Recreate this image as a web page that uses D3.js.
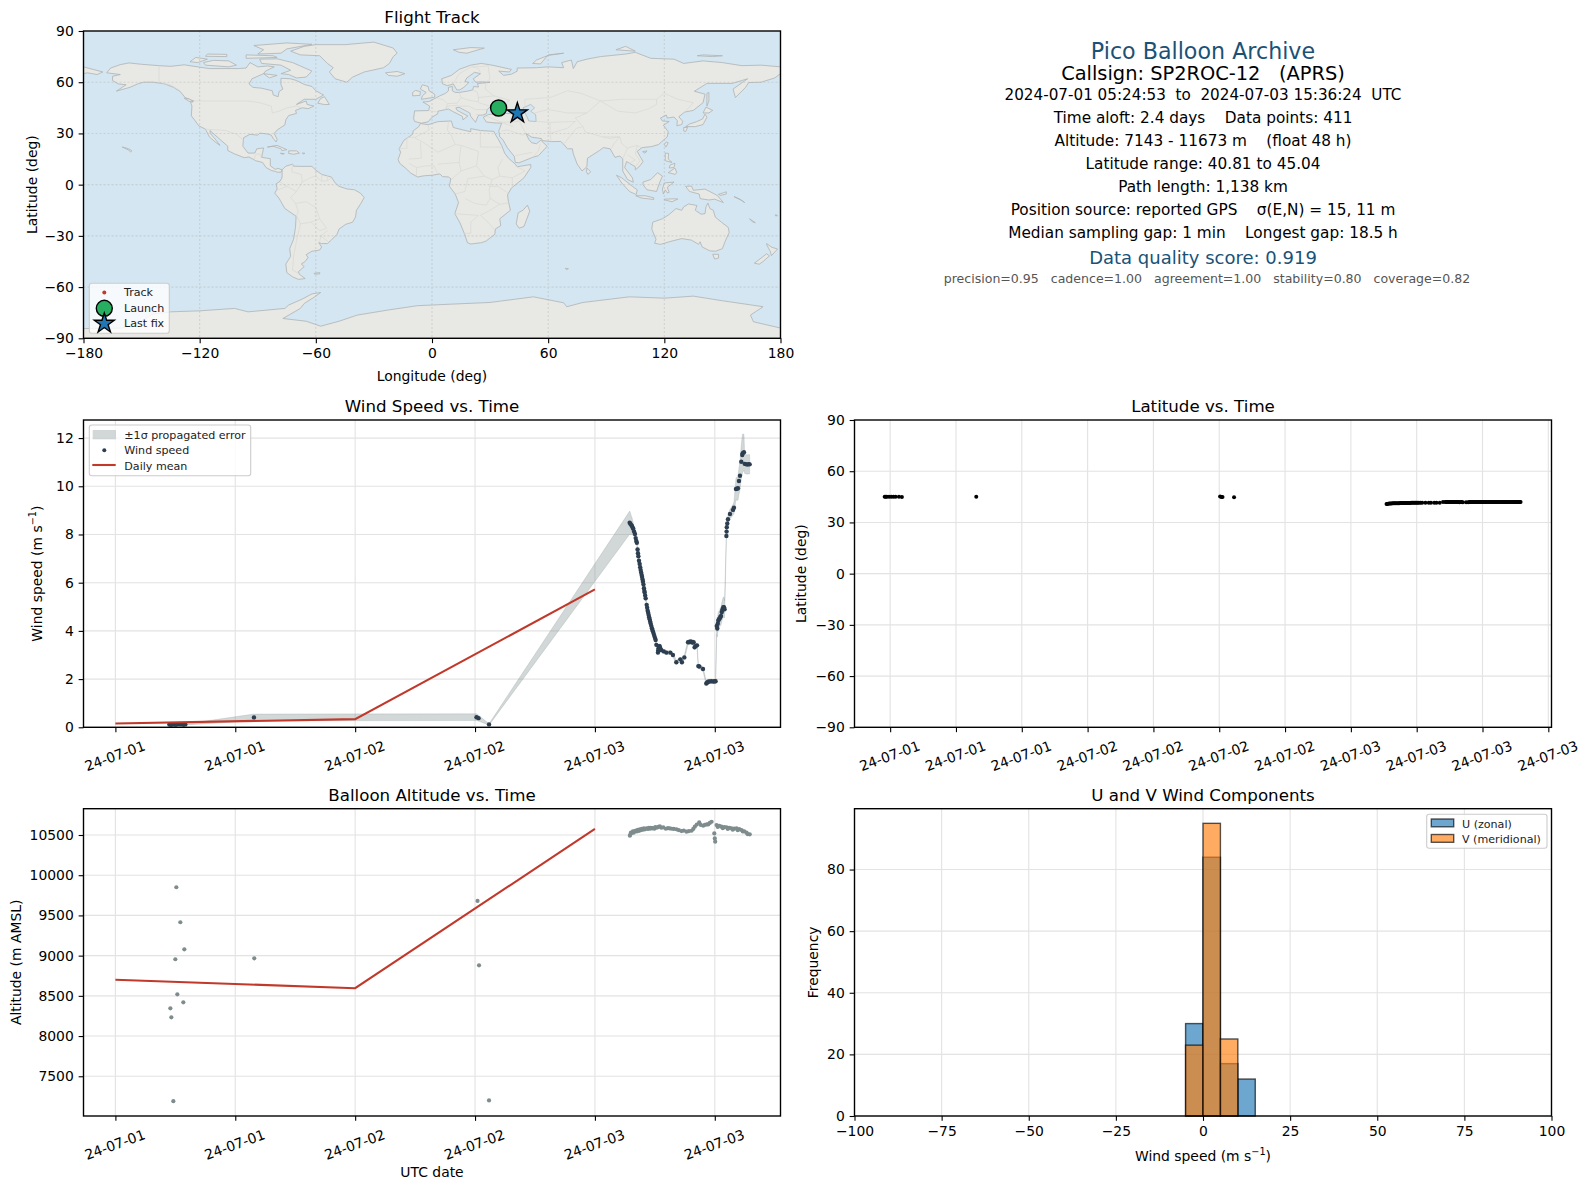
<!DOCTYPE html>
<html>
<head>
<meta charset="utf-8">
<title>Pico Balloon Archive</title>
<script src="https://cdn.jsdelivr.net/npm/d3@7"></script>
<style>
  html,body{margin:0;padding:0;background:#fff;}
  svg{display:block;}
  text{font-family:"DejaVu Sans",sans-serif;fill:#000;}
</style>
</head>
<body>
<div id="chart"></div>
<script>
// ---- flight info text
const infoLines = [
  ['Pico Balloon Archive',51,22.2,'#1a5276'],
  ['Callsign: SP2ROC-12   (APRS)',73.8,19.4,'#000'],
  ['2024-07-01 05:24:53  to  2024-07-03 15:36:24  UTC',95.1,15.2,'#000'],
  ['Time aloft: 2.4 days    Data points: 411',118.3,15.3,'#000'],
  ['Altitude: 7143 - 11673 m    (float 48 h)',141.3,15.3,'#000'],
  ['Latitude range: 40.81 to 45.04',164.3,15.3,'#000'],
  ['Path length: 1,138 km',187.3,15.3,'#000'],
  ['Position source: reported GPS    \u03c3(E,N) = 15, 11 m',210.3,15.3,'#000'],
  ['Median sampling gap: 1 min    Longest gap: 18.5 h',233.3,15.3,'#000'],
  ['Data quality score: 0.919',257.5,18,'#1a5276'],
  ['precision=0.95   cadence=1.00   agreement=1.00   stability=0.80   coverage=0.82',278.2,12.55,'#555']
];

// ---- map, lon/lat
const lonTicks = [-180,-120,-60,0,60,120,180];
const latTicks = [-90,-60,-30,0,30,60,90];
const launchLonLat = [34.4,44.9];
const lastFixLonLat = [44.1,41.9];

const landPolygons = [
  // north america
  [[-168,65.5],[-166,68.3],[-161,70.3],[-156.5,71.3],[-150,70.5],[-141,69.7],[-135,69.3],[-128,70.2],[-124,69.5],[-115,68],[-108,68],[-100,68],[-96,68.3],[-94,71.5],[-90,69],[-85,69.5],[-81.5,69],[-86,66.5],[-87,65],[-93,62],[-94.5,59],[-92.5,57],[-88,56.5],[-82.5,55],[-82,52.5],[-79.5,51.5],[-79,54.5],[-77,56],[-78,58.5],[-78,62.3],[-73,62],[-70,61],[-66,58.7],[-62,57.5],[-60,55],[-56,52.5],[-60,50],[-66,50],[-70,47],[-65,49],[-64.5,47],[-61,46],[-64,44.5],[-67,45],[-70.5,43.5],[-70,41.7],[-74,40.5],[-75.5,38],[-76,35],[-80,32],[-81.5,30],[-80,26.5],[-80.5,25],[-82,27],[-83,29],[-85,29.7],[-89,30.2],[-90,29],[-94,29.5],[-97.3,27.5],[-97.7,22.5],[-95,18.5],[-91.5,18.5],[-90.5,21],[-87,21.5],[-88,16],[-83.5,15.2],[-83.5,11],[-81,9],[-79.5,9.5],[-77.4,8.7],[-78,7.3],[-80,7.3],[-81,7.8],[-83,8.3],[-85.7,10],[-87.5,13],[-91,14],[-94.5,16.2],[-97,15.8],[-102,18],[-105.5,20],[-105.5,22.5],[-109,26],[-112.5,29.5],[-114.7,31.7],[-114.5,30],[-111.5,26],[-109.5,23],[-112,25],[-115,28],[-117,32.5],[-120.5,34.5],[-122.5,37.7],[-124.3,40.3],[-124,46],[-124.7,48.4],[-123,49],[-127.5,51],[-130,54.5],[-133.5,57],[-138,59],[-144,60],[-149,60],[-152,59],[-156,57],[-163,54.8],[-158,58.5],[-162,59],[-165,61],[-165,63.5],[-161,64.5]],
  // chukotka past the date line
  [[-180,69],[-175,67.5],[-170,66],[-173,64.5],[-178,65.5],[-180,65]],
  // greenland and arctic islands
  [[-73,78.2],[-68,76],[-58,75.5],[-54,71],[-51,68.5],[-53,66],[-50,62],[-44,60],[-41,63],[-35,66],[-25,68.5],[-22,71],[-20,75],[-18,77],[-20,80],[-30,83.5],[-45,82],[-60,82],[-66,81]],
  [[-80,73.7],[-72,71.5],[-68,69.5],[-62,66.5],[-65,63],[-70,62.5],[-74,64.5],[-78,65],[-73,67],[-78,70],[-88,71],[-89,73.5]],
  [[-117,70],[-105,69],[-101,70],[-105,72.5],[-113,72.8],[-118,71.5]],
  [[-90,76.5],[-78,77],[-75,79.5],[-62,82.2],[-75,83],[-92,81.5],[-87,79]],
  [[-125,72],[-121,71.5],[-116,73.5],[-122,74.5]],
  [[-96,74],[-80,74.5],[-82,75.5],[-96,76]],
  [[-117,75.2],[-106,75],[-106,76.3],[-116,76.5]],
  [[-87,65],[-80,64],[-84,62.5]],
  [[-59,47.7],[-55.5,46.9],[-53,47],[-55.5,51.5],[-57.5,50.5]],
  [[-128,50.7],[-125,50],[-123.5,48.4],[-125.5,48.8]],
  [[-85,22],[-80,23],[-75,20.5],[-77.5,19.9],[-78,21],[-82,22.5]],
  [[-74,19.8],[-70,19.8],[-68.5,18.5],[-71.5,17.8],[-74,18.3]],
  [[-78.3,18.4],[-76.3,18.2],[-77,17.8]],
  [[-67,18.5],[-65.7,18.4],[-66.5,18]],
  [[-160,22],[-159,21.8],[-157.5,21.3],[-156,20.6],[-155,19.8],[-155.7,19],[-156.2,20]],
  // south america
  [[-77.4,8.7],[-75.5,10.8],[-72,12],[-71.5,10.8],[-68,10.7],[-62,10.7],[-60,8.5],[-57,6],[-52,4.5],[-50,1],[-48,-1],[-44,-2.5],[-40,-3],[-37,-5],[-35,-7.5],[-37,-11.5],[-39,-15],[-39.5,-19],[-41,-22],[-44.5,-23.2],[-48,-26],[-49,-29],[-52,-32.5],[-54,-34.5],[-57,-34.5],[-58.5,-34],[-57,-36.5],[-58,-38.3],[-62,-39],[-65,-41],[-64,-42.7],[-65.5,-45],[-67.5,-46.5],[-66,-48],[-69,-51],[-68.5,-52.5],[-65.5,-55],[-69,-55.5],[-72,-54],[-75,-51.5],[-75.5,-46.5],[-73,-42],[-73.5,-37.5],[-71.5,-32],[-70.5,-25],[-70.2,-18.5],[-76,-14],[-79,-8],[-81.2,-5],[-80,-2.5],[-80.5,0.5],[-78.5,2],[-77.5,4],[-77.4,7]],
  [[-61,-52],[-58,-51.5],[-58,-52.3],[-60.5,-52.4]],
  // africa
  [[-6,35.8],[-2,35.1],[3,36.9],[10,37.3],[11,33.5],[15,32.3],[20,31],[20,32.8],[25,31.7],[32,31.2],[32.5,29.9],[34,27],[36,23],[37.5,18.5],[39.5,15.5],[43,12],[44,10.5],[51,11.8],[51,10],[47.5,4],[41,-2],[39,-6],[39.5,-10],[40.5,-15],[35,-20],[35.5,-24],[32.7,-26],[32.5,-29],[28,-33],[25.5,-34],[20,-34.8],[18.3,-34],[17,-29.5],[14.5,-22.5],[11.8,-17],[13.7,-10.5],[12,-5.5],[9,-1],[9.7,3.5],[8.5,4.5],[5.5,4.7],[4,6.3],[0,5.5],[-4,5.2],[-7.5,4.5],[-11,6.8],[-13.5,9.5],[-16.7,12.5],[-17.5,14.7],[-16.2,19],[-17,21],[-14.5,26],[-10,29.5],[-9.7,31.5],[-6.8,34]],
  [[49.3,-12],[50.5,-15.5],[47.5,-24.5],[45,-25.5],[43.5,-23],[44.5,-16.5],[47,-15]],
  // eurasia
  [[-9,43.2],[-1.7,43.4],[-1.2,46],[-4.7,48.4],[-1.5,48.7],[1.5,50.5],[4,52],[7,53.5],[8.5,55],[8.5,57],[10.5,57.5],[10.5,55],[12,54],[14,54],[18.5,54.8],[21,55.5],[21.5,57.5],[24,57.2],[23.5,59.2],[28,59.7],[30,60],[25,60.2],[22.5,60],[21.3,62],[25,65],[22,65.8],[18,62.5],[17,60.5],[19,59.8],[16.5,57],[14.3,55.5],[12.8,55.5],[11,59],[8,58],[5.5,59],[5,62],[10,64],[14,67.5],[20,70],[25.5,71],[31,70],[41,67.5],[40,66],[34.5,66.5],[37,64],[41,64.7],[44,66.5],[44,68.3],[54,68.5],[60,69],[68,68.5],[67,71.5],[72,73],[73,68],[75,72],[80,73.5],[87,75],[100,76.5],[105,77.5],[113,74],[125,73.5],[130,71],[140,72.5],[150,71.5],[160,69.7],[170,70],[180,69],[180,65],[177,62.5],[170,60],[163.5,59.8],[162,57],[156.7,51],[155.5,56],[163,62],[155,59.3],[142,59.3],[135.5,54.7],[141,53],[140,48],[135,43.5],[130.5,42.5],[127.5,39.8],[129.5,37],[129,35.2],[126.5,34.5],[126.7,37.5],[125,39.6],[121.5,39],[121,40.8],[118,39],[119,37.3],[122.5,37],[119.5,34.8],[122,31],[121.5,28],[117,23.5],[113.5,22.3],[108.5,21.7],[106,19.5],[109,13.5],[107,10.5],[105,8.7],[105,10.5],[102,12.5],[100.5,13.5],[99.5,10],[103.5,4],[104,1.4],[101,3],[98.5,8],[98.5,15],[97,16.8],[94.5,16],[92,21],[88.5,21.7],[86.5,20],[80.3,15.5],[80,10.5],[77.5,8],[75,12],[73,18],[72.5,21],[70,21],[68,23.7],[66.5,25.3],[61.5,25.2],[57,25.8],[56.5,27],[51.5,27.8],[48.5,30],[50,26.5],[51.5,24.5],[54,24],[56.2,26],[59.5,22.5],[55,17],[52,16],[45,12.8],[43,13],[42.5,16.5],[39,21.5],[36.5,26.5],[35,28],[34.5,31.5],[36,36],[32,36.2],[28,36.7],[26.5,39.5],[29,41],[35,42],[41.5,41.5],[37,45],[38,47],[35,46],[33.5,44.5],[31,46.5],[28.5,44],[28,41.5],[26,40.8],[24,40.7],[23,38],[22.5,36.5],[20,40],[19.5,42],[14,45.3],[12.3,45],[13,43.5],[18.5,40.2],[16,38],[15.7,40],[10.5,43],[8.5,44.3],[3,43],[3,41.5],[0,39.5],[-2,36.8],[-5.5,36],[-9,37],[-9.5,38.7]],
  // islands around eurasia
  [[131,34],[136,34],[140,35.2],[142,39.5],[141,41.3],[139.8,38.5],[136.5,36.8],[133,35.5]],
  [[140,42],[141.5,45.4],[145,43.5],[143,42]],
  [[130,33.5],[132,33.5],[131,31],[130,31.5]],
  [[142,46],[143,49],[143,54],[142,53.5],[142,49]],
  [[-5.5,50],[1.3,51.2],[1.5,52.8],[-1.5,55],[-2,57.5],[-5,58.5],[-6,56],[-3,54],[-5,52]],
  [[-10,52],[-6.2,52.3],[-6,54.5],[-8.5,55.2],[-10,54]],
  [[-24,65.5],[-18,66.3],[-14,65],[-18,63.5],[-22.5,64]],
  [[11,79],[20,80.3],[27,80],[18,77],[14,77.5]],
  [[52,71],[56,70.7],[60,76],[68,77],[60,75.7],[54,73]],
  [[95,79],[105,78.2],[100,81]],
  [[137,75.5],[145,75],[150,75.5],[140,76]],
  [[80,9.7],[82,7.5],[80.5,6],[79.8,7.5]],
  [[121,25],[122,24.5],[120.8,22],[120,23.5]],
  [[108.8,19.3],[111,19.8],[110,18.4]],
  [[120.5,18.5],[122.2,18.3],[122,15],[124,13],[120.5,14]],
  [[122,7],[125.5,9.7],[126.5,7],[125.5,6],[124,6.5]],
  [[123,11.5],[125.5,12.5],[125,10],[122.5,9.8]],
  [[109,1.5],[113,3],[116.5,7],[119,5],[117.5,1],[116,-4],[111,-3],[109,0]],
  [[95.3,5.5],[98,4],[103.5,-1],[106,-3],[105.5,-5.8],[102,-4],[98,1]],
  [[105.3,-6.5],[110,-6.5],[114.5,-7.7],[114.5,-8.7],[108,-7.8]],
  [[119.5,-5.5],[120.5,-3],[121.5,-4.8],[122.5,-4.5],[121.5,-1.5],[125,1.5],[120,1],[119,-2.5]],
  [[131,-1],[134,-0.8],[135,-3.3],[141,-2.6],[146,-5.5],[147.5,-6.5],[150.5,-10.5],[146,-8.5],[143,-9],[138.5,-8.2],[138,-5.5],[133,-4]],
  [[120,-8.5],[125,-8.3],[127,-8.4],[124,-10],[120,-8.9]],
  [[148,-5.7],[152,-4.2],[152,-5.5],[149,-6.3]],
  [[156,-7],[160,-9.3],[161.5,-10.5],[159,-8.5]],
  [[164,-20],[167,-22.3],[165.5,-21.8]],
  [[177.5,-17.5],[178.5,-18.2],[177.3,-18.2]],
  // australia and new zealand
  [[114,-22],[113.5,-26],[115.7,-32],[115,-34.3],[118,-35],[124,-33],[129,-31.6],[134,-32.5],[137.7,-35],[138.5,-33.5],[139.5,-36.5],[143.5,-38.8],[146.5,-39],[150,-37.5],[151.5,-33],[153.5,-28],[153,-25],[149.5,-22],[146.3,-19],[145.3,-15],[143.5,-14],[142.5,-10.8],[141.5,-13],[141,-17],[139,-17.3],[136,-15],[136.8,-12.2],[132.5,-11.3],[130,-13],[129,-15],[126,-14],[122.5,-17.5],[119,-20]],
  [[145,-40.8],[148,-40.8],[148,-43],[146,-43.6]],
  [[172.8,-34.5],[175.5,-36.7],[178.5,-37.7],[177,-39.5],[175.3,-41.6],[174.7,-39],[173,-35.5]],
  [[172.8,-40.5],[174.3,-41.7],[171,-45],[169,-46.6],[166.5,-46],[170,-43]],
  // kerguelen
  [[68.8,-49],[70.5,-49.2],[69.5,-49.8]],
  // antarctica
  [[-180,-90],[-180,-84.3],[-160,-84],[-150,-80],[-145,-76],[-135,-74.5],[-120,-73.9],[-102,-72.5],[-95,-74.5],[-76,-72.5],[-74,-70.5],[-67,-67],[-62,-64],[-57.5,-63.2],[-61,-66],[-66,-69.6],[-68,-72.5],[-77,-78.4],[-65,-80],[-57.5,-82.9],[-48,-80],[-38.6,-76.4],[-23,-73.5],[-7.6,-70.9],[10,-70],[30,-69],[52.4,-65.7],[68,-69.2],[69.6,-71.5],[78,-69],[102,-65.7],[120,-66.5],[135,-65.3],[150,-68],[171,-71.5],[164.5,-76.4],[166,-80.3],[180,-84],[180,-90]]
];
const caspianSea = [[47,45],[51,47],[53,45],[51,43],[53.5,41],[53.8,37],[50,37.3],[49,40],[47.5,43]];

const borderLines = [
  [[-123,49],[-95,49],[-89,48],[-83,46],[-82.5,42],[-79,43],[-75,45],[-70,46],[-67,45]],
  [[-141,69.7],[-141,60],[-135,58.5],[-130,55]],
  [[-117,32.5],[-106.5,31.7],[-101,29.5],[-97.3,26]],
  [[-92,14.5],[-91,17.8],[-89,18],[-88.2,16]],
  [[-72,12],[-72.5,7.5],[-67.5,6],[-67,1.5],[-63,4],[-60,5],[-60,8.5]],
  [[-60,5],[-57,2],[-54,2.3],[-52,3.8]],[[-57,6],[-57,2]],[[-54,5.8],[-54,2.3]],
  [[-67,1.5],[-70,-4],[-73,-7.5],[-70.5,-11],[-65,-10],[-60,-13.5],[-58,-20],[-54.5,-25.5]],
  [[-80.3,-3.4],[-75,-1],[-70,-4]],[[-78.5,1.5],[-75,-1]],
  [[-70.5,-11],[-69,-16],[-70,-18],[-68,-23],[-70,-33],[-71.5,-42],[-72,-50],[-69,-52]],
  [[-68,-23],[-62.5,-22],[-58,-20]],[[-62.5,-22],[-58,-27],[-54.5,-25.5]],
  [[-58,-33.5],[-57.5,-30],[-53.5,-33.5]],[[-57.5,-30],[-54,-27]],
  [[-8.7,27.7],[-13,27.7],[-13,21.3],[-17,21]],[[-2,35],[-1.5,32],[-8.7,27.7]],
  [[-8.7,27.3],[-4.8,25],[3,19],[12,23.5]],[[9.5,30],[12,23.5],[15,23],[24,19.5]],
  [[25,31.7],[25,22],[36.5,22]],[[24,19.5],[23,11],[27,5]],[[8.5,37],[8,32],[9.5,30]],
  [[-12,15],[-5.5,15.5],[-6,24.9]],[[3,12],[14,13],[15,23]],[[14,13],[15,8],[10,3]],
  [[15,8],[23,11]],[[12,-5.5],[17,-4],[18.5,3.5],[27,5],[31,3],[29.5,-3],[30,-8],[28,-12],[22,-11],[17,-8]],
  [[36.5,15],[34,10],[35,5],[41.5,4]],[[34,-1],[39,-4.7]],[[31,3],[35,5]],[[29.5,-1],[34,-1]],
  [[41.5,-1.5],[41.5,4],[48,8],[43,11]],[[11.8,-17],[24,-18],[20,-22],[20,-28.5],[16.5,-28.5]],
  [[30,-8],[35,-11.5],[40.5,-10.5]],[[35,-11.5],[30,-15],[25,-18],[29,-22],[32,-26]],
  [[-8,5],[-8,10],[-3,11],[1,11],[3,6.3]],[[-12,12.5],[-8,10]],
  [[28,59.7],[27.5,56],[32,52],[40,49.5],[38,47]],[[40,43.5],[47.5,42]],
  [[48,46],[48,50],[61,51],[70,55],[77,53.5],[87,49]],
  [[87,49],[98,50],[107,50],[116,50],[120,53.5],[127,50],[135,48],[131,43]],
  [[87,49],[96,43],[105,42],[112,44.5],[116,47],[116,50]],
  [[87,49],[80,42],[74,39],[78,34],[79,31],[88,28],[97,28],[98,24],[101,21.5],[106,23],[108,21.6]],
  [[53,42],[60,44],[70,42],[80,42]],[[44.5,39.5],[46,35],[48.5,30]],[[61,36.5],[61,30],[61.5,25.2]],
  [[54,37],[61,36.5]],[[26,41],[36,36.5],[44.5,37],[44.5,39.5],[41.5,41.5]],
  [[61,30],[70,33],[74,37],[61,36.5]],[[68,23.7],[71,28],[74.5,33],[78,34]],
  [[88,28],[92,27],[97,28]],[[97,28],[94,24],[92.5,21]],[[98.5,15],[101,21.5]],
  [[102,12.5],[105,14.5],[101,17.5]],[[106,23],[105,18],[107.5,14],[105,10.5]],
  [[36,31.5],[39,32],[47,29],[48.5,30]],[[52,16],[55,20],[56,24]],[[43,17],[52,19]],[[36,36.5],[42,34]],
  [[-1.7,43.4],[3,42.5]],[[2.5,51],[6,49.5],[8,47.5],[7,44]],
  [[14,54],[15,51],[19,49.5],[24,48.5],[24,51],[23.5,54],[21,55.5]],[[7,44],[8,46],[13.5,46.5]],
  [[8,47.5],[13,47.7],[15,51]],[[24,48],[30,46]],[[24,51],[32,52]],
  [[13.5,46],[19,46],[22.5,44],[28.5,44]],[[22.5,41],[26,41]],
  [[25,65.5],[24,68],[20.5,69],[29,69.5],[30,62],[28,60]],[[20.5,69],[14,65],[12,61],[11,59]]
];

// ---- wind speed, hours after 2024-07-01 00:00 UTC
const windHours = [
  5.4,5.5,5.6,5.8,6.0,6.2,6.5,6.8,7.0,13.87,
  36.15,36.35,37.4,51.48,51.55,51.62,51.71,51.78,51.84,51.92,
  52.01,52.08,52.14,52.20,52.27,52.31,52.35,52.41,52.48,52.53,
  52.58,52.63,52.68,52.72,52.77,52.81,52.86,52.91,52.95,52.98,
  53.03,53.08,53.18,53.23,53.28,53.33,53.38,53.43,53.48,53.53,
  53.58,53.64,53.71,53.76,53.81,53.88,53.95,54.02,54.08,54.15,
  54.31,54.34,54.38,54.43,54.48,54.55,54.65,54.9,55.15,55.55,
  55.81,56.15,56.55,56.71,56.95,57.32,57.45,57.55,57.65,57.75,
  57.88,57.98,58.1,58.22,58.35,58.45,58.82,59.15,59.22,59.32,
  59.45,59.65,59.85,60.0,60.08,60.2,60.25,60.30,60.35,60.42,
  60.49,60.55,60.62,60.70,60.75,60.85,60.92,60.98,61.16,61.18,
  61.20,61.25,61.32,61.52,61.82,61.92,62.12,62.22,62.32,62.42,
  62.52,62.65,62.75,62.79,62.92,62.99,63.1,63.25,63.4,63.49
];
const windSpeed = [
  .12,.12,.11,.12,.11,.12,.12,.11,.12,.41,
  .42,.38,.12,8.49,8.45,8.40,8.35,8.28,8.24,8.12,
  8.02,7.85,7.73,7.66,7.38,7.22,7.10,6.91,6.78,6.64,
  6.53,6.42,6.32,6.24,6.13,6.04,5.92,5.77,5.66,5.59,
  5.47,5.35,5.08,4.96,4.84,4.75,4.66,4.57,4.48,4.39,
  4.31,4.21,4.11,4.04,3.97,3.88,3.79,3.70,3.62,3.42,
  3.10,3.20,3.28,3.36,3.37,3.28,3.20,3.15,3.10,3.10,
  3.00,2.70,2.82,2.70,2.90,3.53,3.54,3.55,3.55,3.52,
  3.53,3.32,3.38,3.40,2.54,2.52,2.42,1.82,1.85,1.89,
  1.90,1.91,1.90,1.91,1.91,4.20,4.10,4.30,4.42,4.48,
  4.52,4.58,4.62,4.78,4.87,4.98,4.98,4.90,7.94,8.12,
  8.30,8.46,8.63,8.85,9.02,9.11,9.89,9.90,9.92,10.22,
  10.44,11.02,11.30,11.37,11.41,10.93,10.92,10.90,10.92,10.91
];
const windSigma = [
  .02,.02,.02,.02,.02,.02,.02,.02,.02,.14,
  .14,.12,.03,.48,.45,.40,.35,.30,.25,.20,
  .18,.16,.15,.14,.14,.14,.13,.13,.13,.13,
  .13,.13,.13,.13,.13,.13,.13,.13,.13,.13,
  .13,.13,.13,.13,.13,.13,.13,.13,.13,.13,
  .13,.13,.13,.13,.13,.13,.12,.12,.12,.12,
  .10,.10,.10,.10,.10,.09,.09,.08,.08,.08,
  .08,.08,.08,.09,.09,.10,.10,.10,.10,.10,
  .10,.10,.10,.10,.10,.09,.09,.08,.08,.08,
  .08,.08,.08,.08,.08,.35,.35,.35,.35,.35,
  .35,.37,.38,.40,.40,.42,.42,.35,.15,.15,
  .15,.15,.18,.20,.22,.25,.45,.48,.50,.55,
  .60,.70,.80,.80,.75,.40,.40,.40,.40,.40
];
const dailyHours = [0,24,48];
const dailyWind = [0.16,0.34,5.72];
const dailyAlt = [8700,8595,10575];

// ---- latitude
const latHours = [
  5.5,5.6,5.7,5.9,6.1,6.3,6.5,6.8,7.07,13.85,36.08,36.2,36.3,37.35,
  51.25,51.32,51.4,51.5,51.6,51.7,51.8,51.9,52.0,52.1,52.2,52.3,52.4,52.5,52.6,52.7,52.8,52.9,53.0,53.1,
  53.2,53.3,53.4,53.5,53.6,53.7,53.8,53.9,54.0,54.1,54.2,54.35,54.5,54.8,55.1,55.3,55.6,55.8,56.1,
  56.4,56.6,56.7,56.8,56.9,57.0,57.1,57.2,57.3,57.4,57.5,57.6,57.7,57.8,57.9,58.0,58.1,58.2,58.5,58.7,
  58.8,58.9,59.0,59.1,59.2,59.3,59.4,59.5,59.6,59.7,59.8,59.9,60.0,60.1,60.2,60.3,60.4,60.5,60.6,60.7,
  60.8,60.9,61.0,61.1,61.2,61.3,61.4,61.5,61.6,61.7,61.8,61.9,62.0,62.1,62.2,62.3,62.4,62.5,62.6,62.7,
  62.8,62.9,63.0,63.1,63.2,63.3,63.4,63.47
];
const latValues = [
  45.0,45.04,45.0,45.02,45.0,45.0,44.98,45.0,44.96,45.0,45.25,44.95,44.85,44.7,
  40.81,40.85,40.95,41.05,41.1,41.15,41.2,41.2,41.25,41.25,41.3,41.3,41.3,41.35,41.35,41.4,41.4,41.4,41.4,41.45,
  41.45,41.45,41.45,41.5,41.5,41.5,41.5,41.5,41.5,41.55,41.55,41.5,41.55,41.5,41.55,41.6,41.6,41.6,41.6,
  41.9,41.9,41.95,41.9,41.9,41.9,41.95,41.95,41.9,41.9,41.95,41.9,41.9,41.9,41.85,41.9,41.9,41.85,41.8,41.85,
  41.9,41.95,41.95,41.95,41.9,41.9,41.95,41.95,41.9,41.95,41.95,41.9,41.95,41.9,41.95,41.9,41.95,41.9,41.9,41.95,
  41.95,41.9,41.9,41.95,41.95,41.9,41.9,41.95,41.95,41.95,41.9,41.9,41.95,41.9,41.9,41.95,41.95,41.9,41.9,41.95,
  41.9,41.9,41.95,41.9,41.95,41.9,41.9,41.9
];

// ---- altitude
const altHours = [
  6.1,6.5,6.9,6.0,6.2,6.8,5.5,5.6,5.8,13.9,
  36.25,36.4,37.4,51.5,51.55,51.6,51.7,51.8,51.9,52.0,
  52.1,52.2,52.3,52.4,52.5,52.6,52.7,52.8,52.9,53.0,
  53.17,53.3,53.4,53.5,53.6,53.72,53.84,53.95,54.05,54.2,
  54.35,54.5,54.65,54.84,55.1,55.3,55.5,55.7,55.9,56.17,
  56.4,56.67,56.9,57.17,57.4,57.68,57.85,58.0,58.2,58.44,
  58.6,58.84,59.0,59.2,59.34,59.5,59.68,59.95,60.0,60.04,
  60.18,60.3,60.45,60.68,60.8,60.95,61.18,61.3,61.45,61.68,
  61.8,61.95,62.18,62.3,62.45,62.68,62.8,62.95,63.18,63.3,63.5
];
const altValues = [
  9850,9415,9079,8955,8519,8420,8345,8233,7190,8967,
  9680,8880,7200,10491,10505,10529,10525,10545,10530,10549,
  10555,10545,10565,10550,10570,10560,10575,10565,10582,10570,
  10582,10575,10590,10578,10590,10582,10587,10578,10598,10590,
  10600,10607,10590,10595,10578,10585,10582,10578,10575,10570,
  10560,10549,10555,10541,10548,10553,10575,10603,10630,10657,
  10625,10615,10625,10632,10632,10650,10665,10520,10458,10417,
  10624,10600,10615,10603,10585,10598,10595,10575,10590,10582,
  10565,10580,10582,10560,10572,10562,10545,10545,10529,10510,10508
];

// ---- histogram, 5 m/s bins
const histEdges = d3.range(-100,100,5);
const uCounts = histEdges.map(function(e){ return ({'-5':30,'0':84,'5':17,'10':12})[e]||0; });
const vCounts = histEdges.map(function(e){ return ({'-5':23,'0':95,'5':25})[e]||0; });

// ---- layout
const WIDTH = 1589, HEIGHT = 1189;
const colL = [83.5,780.5], colR = [854.5,1551.5];
const row1 = [31,338.3], row2 = [420,727.3], row3 = [808.7,1116];
const TICK = 4.86;
const RED = '#c0392b', DARK = '#2c3e50', GREY = '#7f8c8d';

const svg = d3.select('#chart').append('svg').attr('width',WIDTH).attr('height',HEIGHT);
const defs = svg.append('defs');

const hoursToDate = function(h){ return new Date(Date.UTC(2024,6,1) + h*3600000); };
const gridColour = '#b0b0b0';

function drawGrid(g,x,y,xTicks,yTicks,cols,rows,dash,opacity){
  const grid = g.append('g').attr('stroke',gridColour).attr('stroke-width',1.1).attr('opacity',opacity||0.35);
  if(dash) grid.attr('stroke-dasharray',dash);
  grid.selectAll('.vg').data(xTicks).join('line').attr('class','vg')
    .attr('x1',function(d){return x(d);}).attr('x2',function(d){return x(d);})
    .attr('y1',rows[0]).attr('y2',rows[1]);
  grid.selectAll('.hg').data(yTicks).join('line').attr('class','hg')
    .attr('y1',function(d){return y(d);}).attr('y2',function(d){return y(d);})
    .attr('x1',cols[0]).attr('x2',cols[1]);
}

function drawFrame(g,x,y,xTicks,yTicks,cols,rows,xFormat,yFormat,rotate){
  g.append('rect').attr('x',cols[0]).attr('y',rows[0])
    .attr('width',cols[1]-cols[0]).attr('height',rows[1]-rows[0])
    .attr('fill','none').attr('stroke','#000').attr('stroke-width',1.39);
  const ax = g.append('g').attr('transform','translate(0,'+rows[1]+')')
    .call(d3.axisBottom(x).tickValues(xTicks).tickFormat(xFormat).tickSize(TICK).tickPadding(TICK));
  const ay = g.append('g').attr('transform','translate('+cols[0]+',0)')
    .call(d3.axisLeft(y).tickValues(yTicks).tickFormat(yFormat||d3.format('d')).tickSize(TICK).tickPadding(TICK));
  [ax,ay].forEach(function(a){
    a.select('.domain').remove();
    a.selectAll('line').attr('stroke','#000').attr('stroke-width',1.1);
    a.selectAll('text').attr('font-size',13.9).attr('font-family','"DejaVu Sans",sans-serif').attr('fill','#000');
  });
  if(rotate){
    ax.selectAll('text')
      .attr('text-anchor','middle').attr('dy',null).attr('y',null)
      .attr('dominant-baseline','central')
      .attr('transform','translate(-1,28.5) rotate(-20)');
  }
}

function addTitle(text,cols,yMid){
  svg.append('text').attr('x',(cols[0]+cols[1])/2).attr('y',yMid).attr('text-anchor','middle')
    .attr('dominant-baseline','central').attr('font-size',16.67).text(text);
}
function addXLabel(text,cols,yMid){
  svg.append('text').attr('x',(cols[0]+cols[1])/2).attr('y',yMid).attr('text-anchor','middle')
    .attr('dominant-baseline','central').attr('font-size',13.9).text(text);
}
function addYLabel(text,xMid,rows,sup){
  const t = svg.append('text').attr('text-anchor','middle').attr('dominant-baseline','central')
    .attr('font-size',13.9).attr('transform','translate('+xMid+','+(rows[0]+rows[1])/2+') rotate(-90)');
  t.append('tspan').text(text);
  if(sup){
    t.append('tspan').attr('dy',-5).attr('font-size',9.7).text(sup);
    t.append('tspan').attr('dy',5).text(')');
  }
}
function addLegendBox(x0,y0,x1,y1){
  svg.append('rect').attr('x',x0).attr('y',y0).attr('width',x1-x0).attr('height',y1-y0).attr('rx',2.5)
    .attr('fill','#fff').attr('fill-opacity',0.8).attr('stroke','#ccc').attr('stroke-width',1.1);
}
function legendText(x,y,text){
  svg.append('text').attr('x',x).attr('y',y).attr('dominant-baseline','central').attr('font-size',11.1).style('fill','#222').text(text);
}

// ---- flight track map
(function(){
  const x = d3.scaleLinear().domain([-180,180]).range(colL);
  const y = d3.scaleLinear().domain([-90,90]).range([row1[1],row1[0]]);
  const toPath = d3.line().x(function(d){return x(d[0]);}).y(function(d){return y(d[1]);});
  defs.append('clipPath').attr('id','map-clip').append('rect')
    .attr('x',colL[0]).attr('y',row1[0]).attr('width',colL[1]-colL[0]).attr('height',row1[1]-row1[0]);

  const g = svg.append('g');
  g.append('rect').attr('x',colL[0]).attr('y',row1[0]).attr('width',colL[1]-colL[0]).attr('height',row1[1]-row1[0]).attr('fill','#d4e6f1');
  const land = g.append('g').attr('clip-path','url(#map-clip)');
  land.selectAll('.land').data(landPolygons).join('path').attr('class','land')
    .attr('d',function(d){return toPath(d)+'Z';})
    .attr('fill','#e8e8e4').attr('stroke','#aeb2b4').attr('stroke-width',0.8).attr('stroke-linejoin','round');
  land.append('path').attr('d',toPath(caspianSea)+'Z').attr('fill','#d4e6f1').attr('stroke','#aeb2b4').attr('stroke-width',0.7);
  land.selectAll('.border').data(borderLines).join('path').attr('class','border')
    .attr('d',function(d){return toPath(d);})
    .attr('fill','none').attr('stroke','#d8d8d4').attr('stroke-width',0.7);

  drawGrid(g,x,y,lonTicks.slice(1,-1),latTicks.slice(1,-1),colL,row1,'2,2',0.4);

  // track sits under the markers
  g.append('circle').attr('cx',x(launchLonLat[0])).attr('cy',y(launchLonLat[1])).attr('r',8)
    .attr('fill','#27ae60').attr('stroke','#000').attr('stroke-width',1.4);
  g.append('path').attr('d',d3.symbol(d3.symbolStar,124)())
    .attr('transform','translate('+x(lastFixLonLat[0])+','+y(lastFixLonLat[1])+')')
    .attr('fill','#1f77b4').attr('stroke','#000').attr('stroke-width',1.4);

  drawFrame(g,x,y,lonTicks,latTicks,colL,row1,d3.format('d'),d3.format('d'),false);
  addTitle('Flight Track',colL,17.8);
  addXLabel('Longitude (deg)',colL,375.5);
  addYLabel('Latitude (deg)',31.5,row1);

  addLegendBox(89.3,283.3,169.3,333.3);
  svg.append('circle').attr('cx',104.3).attr('cy',292.5).attr('r',2).attr('fill',RED);
  svg.append('circle').attr('cx',104.3).attr('cy',308.3).attr('r',8).attr('fill','#27ae60').attr('stroke','#000').attr('stroke-width',1.4);
  svg.append('path').attr('d',d3.symbol(d3.symbolStar,124)()).attr('transform','translate(104.3,323.5)')
    .attr('fill','#1f77b4').attr('stroke','#000').attr('stroke-width',1.4);
  legendText(124,292.5,'Track');
  legendText(124,308.3,'Launch');
  legendText(124,323.5,'Last fix');
})();

// ---- info panel
svg.append('g').selectAll('text').data(infoLines).join('text')
  .attr('x',function(d,i){return i===infoLines.length-1 ? 1207 : 1203;})
  .attr('y',function(d){return d[1];})
  .attr('text-anchor','middle').attr('dominant-baseline','central')
  .attr('font-size',function(d){return d[2];})
  .style('fill',function(d){return d[3];})
  .style('white-space','pre')
  .text(function(d){return d[0];});

// ---- shared time scale for the two left panels
const timeTicks12h = [0,12,24,36,48,60].map(hoursToDate);
const timeTicks6h = d3.range(6,67,6).map(hoursToDate);
const fmtDate = d3.utcFormat('%y-%m-%d');
const leftTime = d3.scaleUtc().domain([hoursToDate(-3.193),hoursToDate(66.577)]).range(colL);

// ---- wind speed
(function(){
  const y = d3.scaleLinear().domain([0,12.75]).range([row2[1],row2[0]]);
  const g = svg.append('g');
  drawGrid(g,leftTime,y,timeTicks12h,[0,2,4,6,8,10,12],colL,row2);
  defs.append('clipPath').attr('id','wind-clip').append('rect')
    .attr('x',colL[0]).attr('y',row2[0]).attr('width',colL[1]-colL[0]).attr('height',row2[1]-row2[0]);
  const clipped = g.append('g').attr('clip-path','url(#wind-clip)');
  const band = d3.area()
    .x(function(i){return leftTime(hoursToDate(windHours[i]));})
    .y0(function(i){return y(Math.max(0,windSpeed[i]-windSigma[i]));})
    .y1(function(i){return y(windSpeed[i]+windSigma[i]);});
  clipped.append('path').attr('d',band(d3.range(windHours.length))).attr('fill',GREY).attr('fill-opacity',0.35)
    .attr('stroke',GREY).attr('stroke-opacity',0.3).attr('stroke-width',0.7);
  clipped.selectAll('.dot').data(d3.range(windHours.length)).join('circle').attr('class','dot')
    .attr('cx',function(i){return leftTime(hoursToDate(windHours[i]));})
    .attr('cy',function(i){return y(windSpeed[i]);})
    .attr('r',2.2).attr('fill',DARK);
  const mean = d3.line()
    .x(function(d,i){return leftTime(hoursToDate(dailyHours[i]));})
    .y(function(d){return y(d);});
  clipped.append('path').attr('d',mean(dailyWind)).attr('fill','none').attr('stroke',RED).attr('stroke-width',2.08);
  drawFrame(g,leftTime,y,timeTicks12h,[0,2,4,6,8,10,12],colL,row2,fmtDate,d3.format('d'),true);
  addTitle('Wind Speed vs. Time',colL,406);
  addYLabel('Wind speed (m s',36.5,row2,'\u22121');

  addLegendBox(89.3,425,250.7,475.7);
  svg.append('rect').attr('x',92.7).attr('y',430).attr('width',23.3).attr('height',9.3).attr('fill',GREY).attr('fill-opacity',0.35);
  svg.append('circle').attr('cx',104.3).attr('cy',450.3).attr('r',2).attr('fill',DARK);
  svg.append('line').attr('x1',92.3).attr('x2',115.7).attr('y1',465).attr('y2',465).attr('stroke',RED).attr('stroke-width',2.08);
  legendText(124.3,435.3,'\u00b11\u03c3 propagated error');
  legendText(124.3,450.3,'Wind speed');
  legendText(124.3,466,'Daily mean');
})();

// ---- latitude
(function(){
  const x = d3.scaleUtc().domain([hoursToDate(2.75),hoursToDate(66.29)]).range(colR);
  const y = d3.scaleLinear().domain([-90,90]).range([row2[1],row2[0]]);
  const g = svg.append('g');
  drawGrid(g,x,y,timeTicks6h,latTicks.slice(1,-1),colR,row2);
  g.selectAll('.dot').data(d3.range(latHours.length)).join('circle').attr('class','dot')
    .attr('cx',function(i){return x(hoursToDate(latHours[i]));})
    .attr('cy',function(i){return y(latValues[i]);})
    .attr('r',2).attr('fill','#000');
  drawFrame(g,x,y,timeTicks6h,latTicks,colR,row2,fmtDate,d3.format('d'),true);
  addTitle('Latitude vs. Time',colR,406);
  addYLabel('Latitude (deg)',800.5,row2);
})();

// ---- altitude
(function(){
  const y = d3.scaleLinear().domain([7006,10827]).range([row3[1],row3[0]]);
  const altTicks = [7500,8000,8500,9000,9500,10000,10500];
  const g = svg.append('g');
  drawGrid(g,leftTime,y,timeTicks12h,altTicks,colL,row3);
  g.selectAll('.dot').data(d3.range(altHours.length)).join('circle').attr('class','dot')
    .attr('cx',function(i){return leftTime(hoursToDate(altHours[i]));})
    .attr('cy',function(i){return y(altValues[i]);})
    .attr('r',2.1).attr('fill',GREY);
  const mean = d3.line()
    .x(function(d,i){return leftTime(hoursToDate(dailyHours[i]));})
    .y(function(d){return y(d);});
  g.append('path').attr('d',mean(dailyAlt)).attr('fill','none').attr('stroke',RED).attr('stroke-width',2.08);
  drawFrame(g,leftTime,y,timeTicks12h,altTicks,colL,row3,fmtDate,d3.format('d'),true);
  addTitle('Balloon Altitude vs. Time',colL,795.5);
  addXLabel('UTC date',colL,1172);
  addYLabel('Altitude (m AMSL)',16,row3);
})();

// ---- wind components histogram
(function(){
  const x = d3.scaleLinear().domain([-100,100]).range(colR);
  const y = d3.scaleLinear().domain([0,99.75]).range([row3[1],row3[0]]);
  const xTicks = [-100,-75,-50,-25,0,25,50,75,100];
  const yTicks = [0,20,40,60,80];
  const g = svg.append('g');
  drawGrid(g,x,y,xTicks,yTicks,colR,row3);
  const drawBars = function(counts,colour){
    g.append('g').selectAll('rect').data(counts).join('rect')
      .attr('x',function(d,i){return x(histEdges[i]);})
      .attr('y',function(d){return y(d);})
      .attr('width',function(d,i){return x(histEdges[i]+5)-x(histEdges[i]);})
      .attr('height',function(d){return y(0)-y(d);})
      .attr('fill',colour).attr('fill-opacity',0.65)
      .attr('stroke','#000').attr('stroke-opacity',0.65).attr('stroke-width',1.39);
  };
  drawBars(uCounts,'#1f77b4');
  drawBars(vCounts,'#ff7f0e');
  drawFrame(g,x,y,xTicks,yTicks,colR,row3,d3.format('d'),d3.format('d'),false);
  addTitle('U and V Wind Components',colR,795.5);
  const xl = svg.append('text').attr('x',1203).attr('y',1155.5).attr('text-anchor','middle')
    .attr('dominant-baseline','central').attr('font-size',13.9);
  xl.append('tspan').text('Wind speed (m s');
  xl.append('tspan').attr('dy',-5).attr('font-size',9.7).text('\u22121');
  xl.append('tspan').attr('dy',5).text(')');
  addYLabel('Frequency',813,row3);

  addLegendBox(1426.7,814.3,1547,848.3);
  svg.append('rect').attr('x',1431.3).attr('y',819).attr('width',22.4).attr('height',7.8)
    .attr('fill','#1f77b4').attr('fill-opacity',0.65).attr('stroke','#000').attr('stroke-opacity',0.65).attr('stroke-width',1.39);
  svg.append('rect').attr('x',1431.3).attr('y',834.5).attr('width',22.4).attr('height',7.8)
    .attr('fill','#ff7f0e').attr('fill-opacity',0.65).attr('stroke','#000').attr('stroke-opacity',0.65).attr('stroke-width',1.39);
  legendText(1462,824,'U (zonal)');
  legendText(1462,839,'V (meridional)');
})();
</script>
</body>
</html>
